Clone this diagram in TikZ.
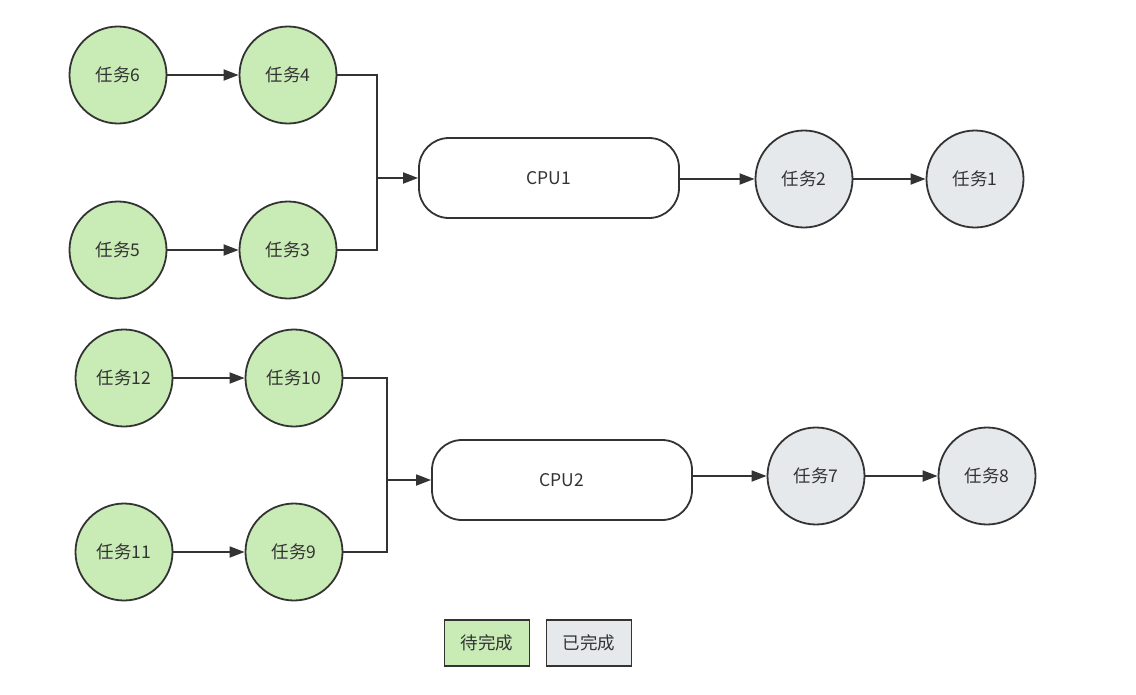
\documentclass[tikz,border=0pt]{standalone}
\usepackage{fontspec}
\setmainfont{Noto Sans CJK SC}
\usetikzlibrary{arrows.meta}
\definecolor{todo}{HTML}{C9EBB6}
\definecolor{done}{HTML}{E6E9EB}
\definecolor{ln}{HTML}{333333}
\begin{document}
\begin{tikzpicture}[x=1pt,y=-1pt,
  every node/.style={font=\fontsize{17.5}{20}\selectfont, text=ln},
  task/.style={circle, draw=ln, line width=1.8pt, minimum size=97pt, inner sep=0pt},
  todotask/.style={task, fill=todo},
  donetask/.style={task, fill=done},
  cpubox/.style={rectangle, rounded corners=30pt, draw=ln, line width=1.8pt, fill=white, minimum width=260pt, minimum height=80pt},
  legbox/.style={rectangle, draw=ln, line width=1.8pt, minimum width=85pt, minimum height=46pt},
  conn/.style={draw=ln, line width=1.8pt},
  arr/.style={conn, -{Triangle[length=15pt,width=11pt]}}]
\useasboundingbox (0,0) rectangle (1136,694);
% group 1
\node[todotask] (t6) at (118,75) {任务6};
\node[todotask] (t4) at (288,75) {任务4};
\node[todotask] (t5) at (118,250) {任务5};
\node[todotask] (t3) at (288,250) {任务3};
\node[cpubox] (cpu1) at (549,178) {CPU1};
\node[donetask] (t2) at (804,179) {任务2};
\node[donetask] (t1) at (975,179) {任务1};
\coordinate (j1) at (377,178);
\draw[arr] (t6) -- (t4);
\draw[arr] (t5) -- (t3);
\draw[conn] (t4.east) -| (j1);
\draw[conn] (t3.east) -| (j1);
\draw[arr] (j1) -- (cpu1.west);
\draw[arr] (cpu1.east |- t2.west) -- (t2.west);
\draw[arr] (t2) -- (t1);
% group 2
\node[todotask] (t12) at (124,378) {任务12};
\node[todotask] (t10) at (294,378) {任务10};
\node[todotask] (t11) at (124,552) {任务11};
\node[todotask] (t9) at (294,552) {任务9};
\node[cpubox] (cpu2) at (562,480) {CPU2};
\node[donetask] (t7) at (816,476) {任务7};
\node[donetask] (t8) at (987,476) {任务8};
\coordinate (j2) at (387,480);
\draw[arr] (t12) -- (t10);
\draw[arr] (t11) -- (t9);
\draw[conn] (t10.east) -| (j2);
\draw[conn] (t9.east) -| (j2);
\draw[arr] (j2) -- (cpu2.west);
\draw[arr] (cpu2.east |- t7.west) -- (t7.west);
\draw[arr] (t7) -- (t8);
% legend
\node[legbox, fill=todo] (lg1) at (487,643) {待完成};
\node[legbox, fill=done] (lg2) at (589,643) {已完成};
\end{tikzpicture}
\end{document}
